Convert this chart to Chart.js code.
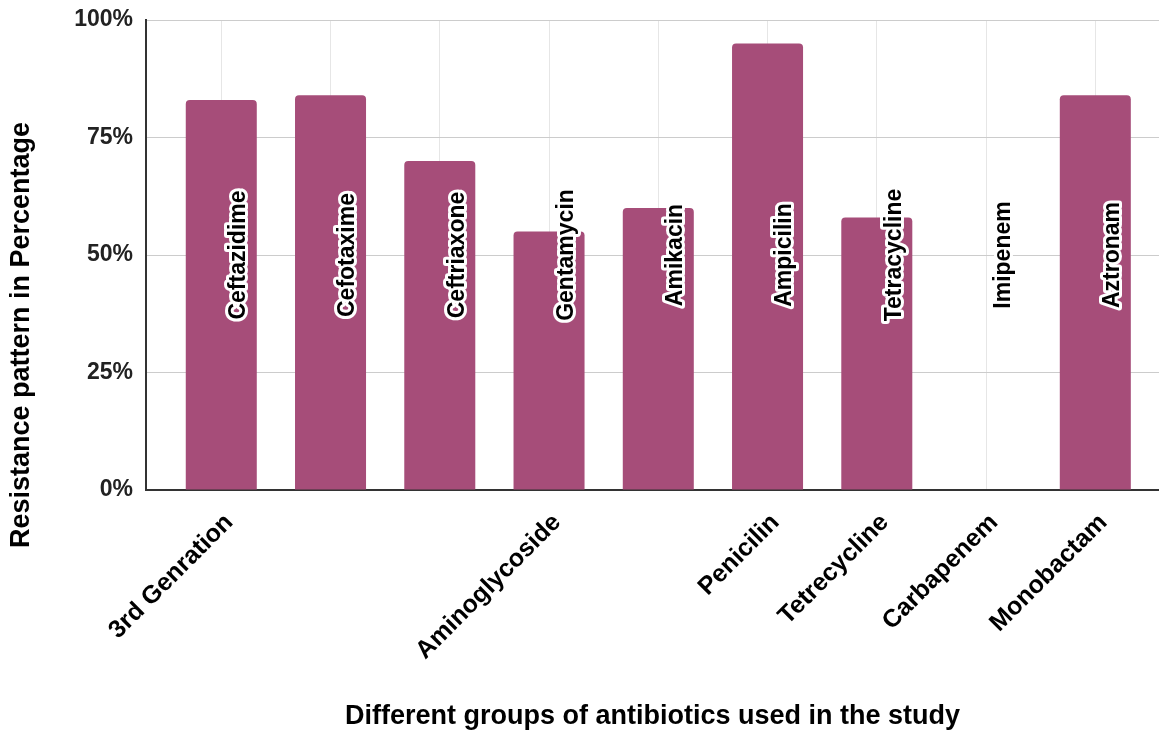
<!DOCTYPE html>
<html>
<head>
<meta charset="utf-8">
<title>Resistance pattern of antibiotics</title>
<script src="https://cdn.jsdelivr.net/npm/chart.js@4/dist/chart.umd.min.js"></script>
<style>
  html, body { margin: 0; padding: 0; background: #ffffff; }
  #wrap { position: relative; width: 1159px; height: 731px; }
</style>
</head>
<body>
<div id="wrap"><canvas id="chart"></canvas></div>
<script>
// Antibiotics tested (one bar each), shown as names inside the bars
const antibiotics = ['Ceftazidime', 'Cefotaxime', 'Ceftriaxone', 'Gentamycin', 'Amikacin',
                     'Ampicilin', 'Tetracycline', 'Imipenem', 'Aztronam'];
// Antibiotic group label written under the axis (blank where the group continues)
const groupLabels = ['3rd Genration', '', '', 'Aminoglycoside', '', 'Penicilin',
                     'Tetrecycline', 'Carbapenem', 'Monobactam'];
// Resistance in percent
const resistance = [83, 84, 70, 55, 60, 95, 58, 0, 84];
// Y axis ticks
const yTicks = [0, 25, 50, 75, 100];

const FONT = 'Arial, "Liberation Sans", Helvetica, sans-serif';

// Writes each antibiotic name vertically across its bar, with a white halo
const barNamePlugin = {
  id: 'barNames',
  afterDatasetsDraw(chart) {
    const { ctx, scales: { x, y } } = chart;
    ctx.save();
    ctx.font = 'bold 23px ' + FONT;
    ctx.textAlign = 'center';
    ctx.textBaseline = 'middle';
    ctx.lineJoin = 'round';
    antibiotics.forEach((name, i) => {
      const px = x.getPixelForValue(i + 0.16);
      const py = y.getPixelForValue(50);
      ctx.save();
      ctx.translate(px, py);
      ctx.rotate(-Math.PI / 2);
      ctx.strokeStyle = '#ffffff';
      ctx.lineWidth = 6;
      ctx.strokeText(name, 0, 0);
      ctx.fillStyle = '#000000';
      ctx.fillText(name, 0, 0);
      ctx.restore();
    });
    ctx.restore();
  }
};

// Y axis title, centred lower than the plot centre
const yTitlePlugin = {
  id: 'yTitle',
  afterDraw(chart) {
    const { ctx } = chart;
    ctx.save();
    ctx.font = 'bold 27px ' + FONT;
    ctx.fillStyle = '#000000';
    ctx.textAlign = 'center';
    ctx.textBaseline = 'middle';
    ctx.translate(22, 335);
    ctx.rotate(-Math.PI / 2);
    ctx.fillText('Resistance pattern in Percentage', 0, 0);
    ctx.restore();
  }
};

new Chart(document.getElementById('chart'), {
  type: 'bar',
  data: {
    datasets: [{
      data: resistance.map((v, i) => ({ x: i, y: v })),
      backgroundColor: '#a64d79',
      borderWidth: 0,
      borderRadius: { topLeft: 4, topRight: 4, bottomLeft: 0, bottomRight: 0 },
      borderSkipped: 'start',
      categoryPercentage: 1.0,
      barPercentage: 0.65
    }]
  },
  options: {
    responsive: true,
    maintainAspectRatio: false,
    animation: false,
    layout: { padding: { top: 20, right: 0, left: 0, bottom: 0 } },
    plugins: {
      legend: { display: false },
      tooltip: { enabled: false }
    },
    scales: {
      x: {
        type: 'linear',
        min: -0.689,
        max: 8.583,
        offset: false,
        afterBuildTicks: (s) => { s.ticks = groupLabels.map((_, i) => ({ value: i })); },
        afterFit: (s) => { s.height = 241; s.paddingLeft = 0; s.paddingRight = 0; },
        grid: { color: '#e6e6e6', lineWidth: 1, drawTicks: false, offset: false },
        border: { color: '#333333', width: 2 },
        ticks: {
          autoSkip: false,
          minRotation: 45,
          maxRotation: 45,
          padding: 18,
          labelOffset: 8,
          color: '#000000',
          font: { family: FONT, size: 25, weight: 'bold' },
          callback: (v) => groupLabels[v] || ''
        },
        title: {
          display: true,
          text: 'Different groups of antibiotics used in the study',
          color: '#000000',
          font: { family: FONT, size: 27, weight: 'bold', lineHeight: 1.1 },
          padding: { top: 0, bottom: 0 }
        }
      },
      y: {
        min: 0,
        max: 100,
        afterBuildTicks: (s) => { s.ticks = yTicks.map(v => ({ value: v })); },
        afterFit: (s) => { s.width = 146; s.paddingTop = 0; s.paddingBottom = 0; },
        grid: { color: '#cccccc', lineWidth: 1, drawTicks: false },
        border: { color: '#333333', width: 2 },
        ticks: {
          padding: 13,
          color: '#222222',
          font: { family: FONT, size: 23, weight: 'bold' },
          callback: (v) => v + '%'
        }
      }
    }
  },
  plugins: [barNamePlugin, yTitlePlugin]
});
</script>
</body>
</html>
